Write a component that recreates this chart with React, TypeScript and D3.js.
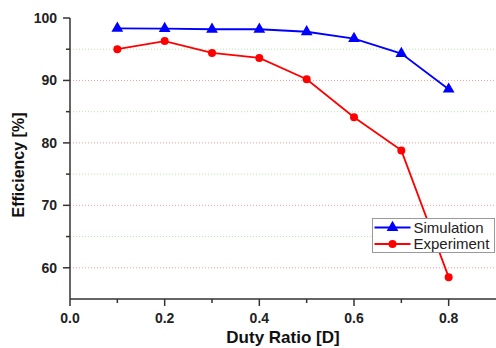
import React from 'react';
import * as d3 from 'd3';

const WIDTH = 496;
const HEIGHT = 348;
const MARGIN = { top: 18, right: 0, bottom: 49, left: 70 };

const DUTY = [0.1, 0.2, 0.3, 0.4, 0.5, 0.6, 0.7, 0.8];
const SIMULATION = [98.35, 98.3, 98.2, 98.2, 97.8, 96.7, 94.3, 88.6];
const EXPERIMENT = [95.0, 96.3, 94.4, 93.6, 90.2, 84.1, 78.8, 58.5];

const X_TICKS = [0, 0.2, 0.4, 0.6, 0.8];
const X_MINOR = [0.1, 0.3, 0.5, 0.7];
const Y_TICKS = [60, 70, 80, 90, 100];
const Y_MINOR = [65, 75, 85, 95];

const FONT = 'Liberation Sans, Arial, sans-serif';

export default function App() {
  const x = d3.scaleLinear().domain([0, 0.9]).range([MARGIN.left, WIDTH - MARGIN.right]);
  const y = d3.scaleLinear().domain([55, 100]).range([HEIGHT - MARGIN.bottom, MARGIN.top]);
  const line = d3
    .line<number>()
    .x((_, i) => x(DUTY[i]))
    .y((d) => y(d));
  const tri = d3.symbol().type(d3.symbolTriangle).size(60)() ?? '';

  const x0 = MARGIN.left;
  const x1 = WIDTH - MARGIN.right;
  const yb = y(55);

  return (
    <svg width={WIDTH} height={HEIGHT} style={{ position: 'absolute', left: 0, top: 0 }} fontFamily={FONT}>
      <rect width={WIDTH} height={HEIGHT} fill="#fff" />
      {Y_TICKS.filter((v) => v < 100).map((v) => (
        <line key={`g${v}`} x1={x0} x2={x1} y1={y(v)} y2={y(v)} stroke="#f2a0a0" strokeWidth={1} strokeDasharray="1 2" />
      ))}
      {Y_MINOR.map((v) => (
        <line key={`gm${v}`} x1={x0} x2={x1} y1={y(v)} y2={y(v)} stroke="#b8e6b0" strokeWidth={1} strokeDasharray="1 2" />
      ))}

      {/* axes */}
      <line x1={x0} x2={x0} y1={y(100)} y2={yb} stroke="#333" strokeWidth={1.5} />
      <line x1={x0} x2={x1} y1={yb} y2={yb} stroke="#333" strokeWidth={1.5} />
      {Y_TICKS.map((v) => (
        <g key={`yt${v}`}>
          <line x1={x0 - 7} x2={x0} y1={y(v)} y2={y(v)} stroke="#333" strokeWidth={1.5} />
          <text x={x0 - 13} y={y(v)} dy="0.36em" textAnchor="end" fontSize={14} fontWeight="bold" fill="#222">
            {v}
          </text>
        </g>
      ))}
      {Y_MINOR.map((v) => (
        <line key={`ym${v}`} x1={x0 - 4} x2={x0} y1={y(v)} y2={y(v)} stroke="#333" strokeWidth={1.5} />
      ))}
      {X_TICKS.map((v) => (
        <g key={`xt${v}`}>
          <line x1={x(v)} x2={x(v)} y1={yb} y2={yb + 7} stroke="#333" strokeWidth={1.5} />
          <text x={x(v)} y={yb + 24} textAnchor="middle" fontSize={14} fontWeight="bold" fill="#222">
            {v.toFixed(1)}
          </text>
        </g>
      ))}
      {X_MINOR.map((v) => (
        <line key={`xm${v}`} x1={x(v)} x2={x(v)} y1={yb} y2={yb + 4} stroke="#333" strokeWidth={1.5} />
      ))}

      <text x={(x0 + x1) / 2} y={343} textAnchor="middle" fontSize={17} fontWeight="bold" fill="#111">
        Duty Ratio [D]
      </text>
      <text
        transform="translate(24, 165) rotate(-90)"
        textAnchor="middle"
        fontSize={16}
        fontWeight="bold"
        fill="#111"
      >
        Efficiency [%]
      </text>

      {/* series */}
      <path d={line(SIMULATION) ?? ''} fill="none" stroke="#0000ff" strokeWidth={1.8} />
      {SIMULATION.map((v, i) => (
        <path key={`s${i}`} d={tri} transform={`translate(${x(DUTY[i])}, ${y(v)})`} fill="#0000ff" />
      ))}
      <path d={line(EXPERIMENT) ?? ''} fill="none" stroke="#ff0000" strokeWidth={1.8} />
      {EXPERIMENT.map((v, i) => (
        <circle key={`e${i}`} cx={x(DUTY[i])} cy={y(v)} r={4} fill="#ff0000" />
      ))}

      {/* legend */}
      <g transform="translate(372.5, 218.5)">
        <rect width={122} height={34} fill="#fff" stroke="#999" strokeWidth={1} />
        <line x1={2} x2={38} y1={9} y2={9} stroke="#0000ff" strokeWidth={1.8} />
        <path d={tri} transform="translate(20, 9)" fill="#0000ff" />
        <text x={41} y={9} dy="0.36em" fontSize={15} fill="#222">Simulation</text>
        <line x1={2} x2={38} y1={25.5} y2={25.5} stroke="#ff0000" strokeWidth={1.8} />
        <circle cx={20} cy={25.5} r={4} fill="#ff0000" />
        <text x={41} y={25.5} dy="0.36em" fontSize={15} fill="#222">Experiment</text>
      </g>
    </svg>
  );
}
